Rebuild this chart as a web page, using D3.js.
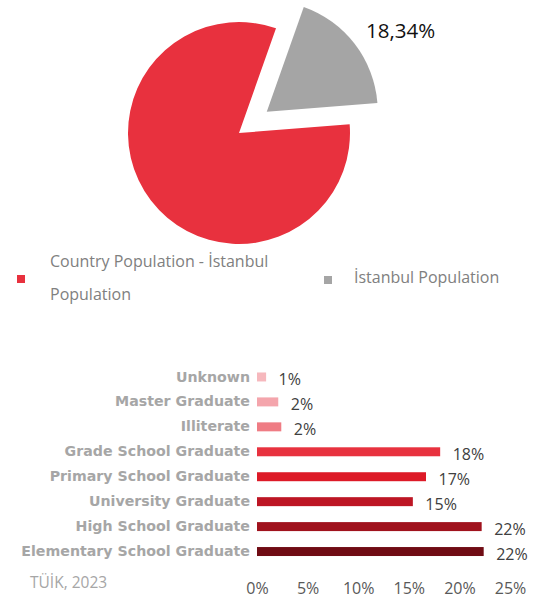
<!DOCTYPE html>
<html>
<head>
<meta charset="utf-8">
<script src="https://cdn.jsdelivr.net/npm/d3@7"></script>
<style>
    body { margin: 0; background: #fff; }
    svg { display: block; }
</style>
</head>
<body>
<div id="chart"></div>
<script>
// pie data
const pieNames = ["Country Population - İstanbul Population", "İstanbul Population"];
const pieValues = [81.66, 18.34];
const pieColors = ["#e8313e", "#a5a5a5"];
const pieValueText = "18,34%";

// education bars (top to bottom)
const eduCategories = ["Unknown", "Master Graduate", "Illiterate", "Grade School Graduate",
    "Primary School Graduate", "University Graduate", "High School Graduate", "Elementary School Graduate"];
const eduValues = [0.9, 2.1, 2.4, 18.1, 16.7, 15.4, 22.2, 22.4];
const eduLabels = ["1%", "2%", "2%", "18%", "17%", "15%", "22%", "22%"];
const eduColors = ["#f6b8bd", "#f4a5ac", "#ef7c84", "#e8323f", "#dd1a27", "#bd1624", "#a0121d", "#700c14"];
const xTicks = [0, 5, 10, 15, 20, 25];
const sourceText = "TÜİK, 2023";

function renderPie(svg) {
    const cx = 239, cy = 133, r = 111;
    const deg = Math.PI / 180;

    const pie = d3.pie()
        .sort(null)
        .startAngle(85.5 * deg)
        .endAngle(445.5 * deg);
    const arc = d3.arc().innerRadius(0).outerRadius(r);
    const arcs = pie(pieValues);

    const g = svg.append("g").attr("transform", "translate(" + cx + "," + cy + ")");
    g.selectAll("path")
        .data(arcs)
        .enter()
        .append("path")
        .attr("d", arc)
        .attr("transform", function (d, i) {
            // the istanbul slice is pulled out
            if (i !== 1) return null;
            const mid = (d.startAngle + d.endAngle) / 2;
            return "translate(" + (Math.sin(mid) * 35) + "," + (-Math.cos(mid) * 35) + ")";
        })
        .style("fill", function (d, i) { return pieColors[i]; });

    svg.append("text")
        .attr("x", 366)
        .attr("y", 38)
        .style("font-family", "'Open Sans'")
        .style("font-size", "20.5px")
        .style("fill", "#111")
        .text(pieValueText);

    // legend
    const legend = [
        {x: 17, y: 275, tx: 50, lines: ["Country Population - İstanbul", "Population"], ty: 267},
        {x: 324, y: 276, tx: 354, lines: [pieNames[1]], ty: 283}
    ];
    legend.forEach(function (l, i) {
        svg.append("rect")
            .attr("x", l.x).attr("y", l.y)
            .attr("width", 8).attr("height", 8)
            .style("fill", pieColors[i]);
        const t = svg.append("text")
            .attr("x", l.tx).attr("y", l.ty)
            .style("font-family", "'Open Sans'")
            .style("font-size", "16px")
            .style("fill", "#808080");
        l.lines.forEach(function (line, j) {
            t.append("tspan").attr("x", l.tx).attr("dy", j === 0 ? 0 : 33).text(line);
        });
    });
}

function renderBars(svg) {
    const x = d3.scaleLinear().domain([0, 25]).range([257, 510]);
    const y = d3.scaleBand()
        .domain(eduCategories)
        .range([364.5, 564])
        .paddingInner(0.64)
        .paddingOuter(0.32);

    svg.append("g")
        .selectAll("rect")
        .data(eduValues)
        .enter()
        .append("rect")
        .attr("x", x(0))
        .attr("y", function (d, i) { return y(eduCategories[i]); })
        .attr("width", function (d) { return x(d) - x(0); })
        .attr("height", y.bandwidth())
        .style("fill", function (d, i) { return eduColors[i]; });

    svg.append("g")
        .selectAll("text")
        .data(eduValues)
        .enter()
        .append("text")
        .attr("x", function (d) { return x(d) + 12.5; })
        .attr("y", function (d, i) { return y(eduCategories[i]) + y.bandwidth() / 2 + 8.5; })
        .style("font-family", "'Open Sans'")
        .style("font-size", "16px")
        .style("fill", "#404040")
        .text(function (d, i) { return eduLabels[i]; });

    // category labels
    const yAxis = svg.append("g")
        .attr("transform", "translate(" + x(0) + ",0)")
        .call(d3.axisLeft(y).tickSize(0).tickPadding(7));
    yAxis.select(".domain").remove();
    yAxis.selectAll("text")
        .style("font-family", "'DejaVu Sans'")
        .style("font-weight", "bold")
        .style("font-size", "14.2px")
        .style("fill", "#a6a6a6");

    // x axis
    const xAxis = svg.append("g")
        .attr("transform", "translate(0,594)")
        .call(d3.axisBottom(x).tickValues(xTicks).tickSize(0).tickFormat(function (d) { return d + "%"; }));
    xAxis.select(".domain").remove();
    xAxis.selectAll("text")
        .attr("y", 0)
        .attr("dy", 0)
        .style("font-family", "'Open Sans'")
        .style("font-size", "16px")
        .style("fill", "#595959");

    svg.append("text")
        .attr("x", 30)
        .attr("y", 588)
        .style("font-family", "'Open Sans'")
        .style("font-size", "15.5px")
        .style("fill", "#a6a6a6")
        .text(sourceText);
}

const svg = d3.select("#chart").append("svg")
    .attr("width", 533)
    .attr("height", 599);

renderPie(svg);
renderBars(svg);
</script>
</body>
</html>
